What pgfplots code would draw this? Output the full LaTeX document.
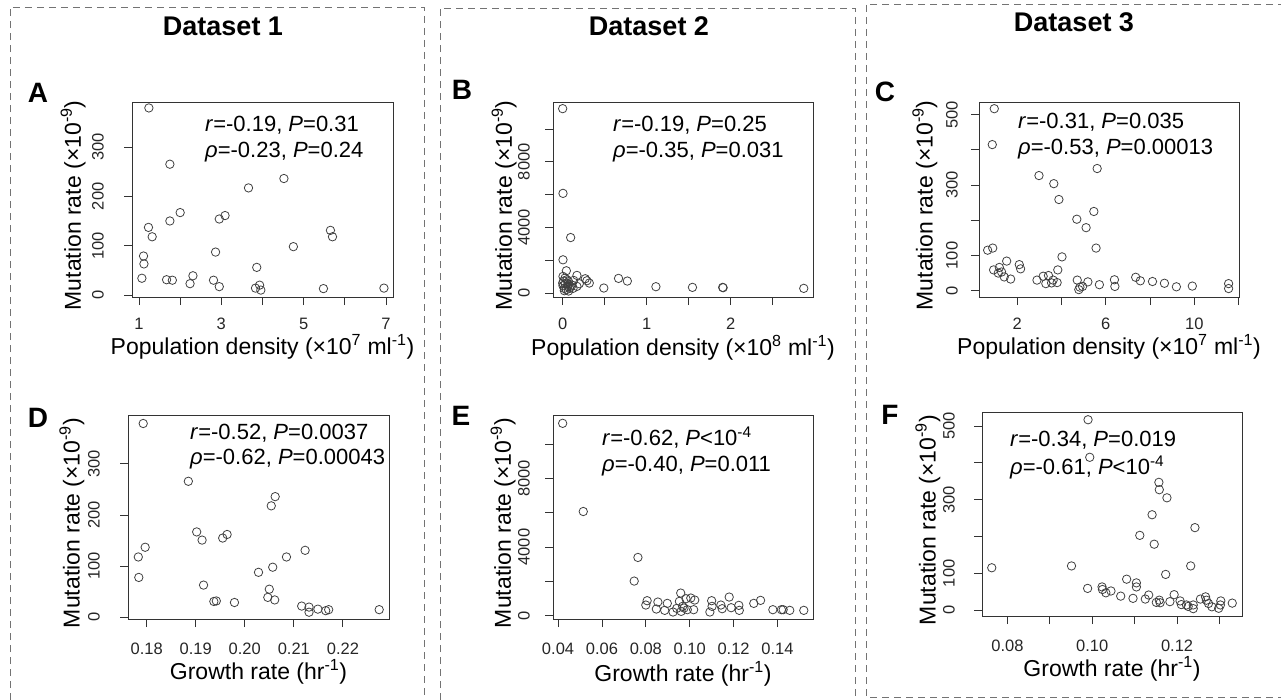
\documentclass[border=0pt]{standalone}
\usepackage{fontspec}
\setmainfont{Liberation Sans}
\usepackage{pgfplots}
\pgfplotsset{compat=1.18}

\newcommand\fs[1]{\fontsize{#1bp}{#1bp}\selectfont}

\pgfplotsset{
  rplot/.style={
    scale only axis, anchor=north west,
    scaled ticks=false,
    axis line style={black!80, line width=0.8bp},
    every tick/.style={black!80, line width=0.8bp},
    tick align=outside, major tick length=8bp,
    xtick pos=bottom, ytick pos=left,
    ticklabel style={font=\fs{16.5}, text=black!85, inner sep=0pt},
    xticklabel style={anchor=north},
    yticklabel style={rotate=90, anchor=south},
    xticklabel shift=13bp, yticklabel shift=20bp,
    label style={font=\fs{23}, inner sep=0pt},
    xlabel style={anchor=center},
    ylabel style={anchor=center},
    ylabel={Mutation rate (×10\textsuperscript{-9})},
  },
  dots/.style={only marks, mark=o, mark size=4.2bp,
    mark options={draw=black!75, line width=0.8bp}},
}
\tikzset{
  dashbox/.style={draw=black!55, line width=0.9bp, dash pattern=on 7bp off 5bp},
  head/.style={font=\fs{27}\bfseries, anchor=center},
  letter/.style={font=\fs{28}\bfseries, anchor=center},
  note/.style={font=\fs{22}, anchor=base west, inner sep=0pt},
}

\begin{document}
\begin{tikzpicture}
\useasboundingbox (0,0) rectangle (1281bp,-700bp);

% column frames
\draw[dashbox] (10bp,-700bp) -- (10bp,-7bp) -- (424bp,-7bp) -- (424bp,-700bp);
\draw[dashbox] (440bp,-700bp) -- (440bp,-8bp) -- (855bp,-8bp) -- (855bp,-700bp);
\draw[dashbox] (1285bp,-4bp) -- (866bp,-4bp) -- (866bp,-697bp) -- (1285bp,-697bp);

\node[head] at (223bp,-26bp) {Dataset 1};
\node[head] at (649bp,-26bp) {Dataset 2};
\node[head] at (1074bp,-22bp) {Dataset 3};

% A
\begin{axis}[rplot, at={(132bp,-102bp)}, width=261bp, height=195bp,
  xmin=0.83, xmax=7.17, ymin=-4, ymax=391,
  xtick={1,2,...,7}, xticklabels={1,,3,,5,,7},
  ytick={0,100,200,300}, yticklabels={0,100,200,300},
  xlabel={Population density (×10\textsuperscript{7} ml\textsuperscript{-1})},
  xlabel style={at={(axis description cs:0.5,-0.258)}},
  ylabel style={at={(axis description cs:-0.226,0.47)}}]
\addplot[dots] coordinates {
(1.24,379)(1.75,265)(2.00,167)(1.75,150)(1.23,137)(1.32,118)(1.11,79)(1.12,63)
(1.07,34)(1.67,31)(1.81,30)(2.31,39)(2.24,23)(2.81,30)(2.95,17)(2.86,87)
(2.95,154)(3.09,161)(3.66,217)(4.52,236)(3.86,56)(3.83,14)(3.93,20)(3.96,10)
(4.75,98)(5.65,131)(5.70,118)(5.48,13)(6.95,14)};
\end{axis}

% B
\begin{axis}[rplot, at={(553bp,-102bp)}, width=260bp, height=195bp,
  xmin=-0.115, xmax=2.98, ymin=-243, ymax=11640,
  xtick={0,0.5,...,2.5}, xticklabels={0,,1,,2,},
  ytick={0,2000,...,10000}, yticklabels={0,,4000,,8000,},
  yticklabel shift=15bp,
  xlabel={Population density (×10\textsuperscript{8} ml\textsuperscript{-1})},
  xlabel style={at={(axis description cs:0.5,-0.262)}},
  ylabel style={at={(axis description cs:-0.188,0.47)}}]
\addplot[dots] coordinates {
(0.0,11235)(0.004,6073)(0.095,3380)(0.004,2024)(0.044,1356)(0.170,1073)
(0.269,870)(0.317,607)(0.49,304)(0.665,891)(0.77,729)(1.11,385)(1.545,344)
(1.905,344)(1.91,324)(2.87,283)
(0.004,1012)(0.028,911)(0.051,810)(0.012,729)(0.071,688)(0.032,567)(0.004,445)
(0.059,405)(0.020,283)(0.044,202)(0.083,283)(0.111,486)(0.131,769)(0.198,567)
(0.170,405)(0.289,749)(0.020,142)(0.071,121)(0.091,405)(0.0,607)(0.063,567)
(0.123,283)};
\end{axis}

% C
\begin{axis}[rplot, at={(979bp,-102bp)}, width=260bp, height=195bp,
  xmin=0.27, xmax=12.02, ymin=-18, ymax=536,
  xtick={2,4,...,12}, xticklabels={2,,6,,10,},
  ytick={0,100,...,500}, yticklabels={0,100,,300,,500},
  yticklabel shift=13bp,
  xlabel={Population density (×10\textsuperscript{7} ml\textsuperscript{-1})},
  xlabel style={at={(axis description cs:0.5,-0.254)}},
  ylabel style={at={(axis description cs:-0.208,0.47)}}]
\addplot[dots] coordinates {
(0.96,517)(0.87,415)(0.66,115)(0.89,121)(0.93,59)(1.19,66)(1.14,50)(1.29,53)
(1.41,39)(1.52,84)(1.70,33)(2.09,74)(2.15,62)(2.98,327)(2.89,30)(3.17,41)
(3.41,43)(3.29,20)(3.62,30)(3.65,304)(3.88,259)(3.83,59)(4.02,96)(3.55,22)
(3.80,23)(4.69,203)(5.11,179)(4.71,30)(4.83,10)(4.95,12)(4.78,3)(5.19,25)
(5.46,225)(5.61,347)(5.56,121)(5.71,17)(6.39,31)(6.41,12)(7.35,38)(7.56,28)
(8.11,26)(8.65,21)(9.19,11)(9.91,13)(11.55,20)(11.55,6)};
\end{axis}

% D
\begin{axis}[rplot, at={(128bp,-415bp)}, width=261bp, height=204bp,
  xmin=0.1762, xmax=0.2294, ymin=-3.3, ymax=395.6,
  xtick={0.18,0.19,0.20,0.21,0.22}, xticklabels={0.18,0.19,0.20,0.21,0.22},
  ytick={0,100,200,300}, yticklabels={0,100,200,300},
  xticklabel shift=16bp,
  xlabel={Growth rate (hr\textsuperscript{-1})},
  xlabel style={at={(axis description cs:0.5,-0.258)}},
  ylabel style={at={(axis description cs:-0.215,0.47)}}]
\addplot[dots] coordinates {
(0.1793,379)(0.1885,266)(0.1797,137)(0.1783,118)(0.1784,78)(0.1902,167)
(0.1913,151)(0.1916,63)(0.1937,31)(0.1942,32)(0.1955,155)(0.1964,162)
(0.1979,29)(0.2028,88)(0.2054,218)(0.2062,236)(0.2057,98)(0.2050,55)
(0.2047,39)(0.2061,34)(0.2085,118)(0.2123,131)(0.2116,22)(0.2131,20)
(0.2131,10)(0.2149,16)(0.2165,13)(0.2171,15)(0.2274,15)};
\end{axis}

% E
\begin{axis}[rplot, at={(553bp,-415bp)}, width=260bp, height=204bp,
  xmin=0.0377, xmax=0.1562, ymin=-194, ymax=11709,
  xtick={0.04,0.06,...,0.14}, xticklabels={0.04,0.06,0.08,0.10,0.12,0.14},
  ytick={0,2000,...,10000}, yticklabels={0,,4000,,8000,},
  xticklabel shift=16bp, yticklabel shift=15bp,
  xlabel={Growth rate (hr\textsuperscript{-1})},
  xlabel style={at={(axis description cs:0.5,-0.27)}},
  ylabel style={at={(axis description cs:-0.192,0.47)}}]
\addplot[dots] coordinates {
(0.0421,11223)(0.0515,6078)(0.0764,3398)(0.0747,2019)(0.0806,874)(0.0800,621)
(0.0855,796)(0.0848,388)(0.0886,311)(0.0898,718)(0.0924,214)(0.0941,427)
(0.0959,1320)(0.0953,835)(0.0961,252)(0.0968,544)(0.0983,990)(0.0989,350)
(0.1005,1029)(0.1023,913)(0.1018,350)(0.1092,214)(0.1100,874)(0.1102,544)
(0.1142,621)(0.1148,408)(0.1180,1087)(0.1189,466)(0.1224,602)(0.1226,311)
(0.1292,718)(0.1323,893)(0.1379,350)(0.1418,350)(0.1426,350)(0.1456,311)
(0.1520,311)(0.0974,447)};
\end{axis}

% F
\begin{axis}[rplot, at={(982bp,-412bp)}, width=260bp, height=204bp,
  xmin=0.0740, xmax=0.1353, ymin=-16, ymax=538,
  xtick={0.08,0.09,0.10,0.11,0.12,0.13}, xticklabels={0.08,,0.10,,0.12,},
  ytick={0,100,...,500}, yticklabels={0,100,,300,,500},
  xticklabel shift=16bp, yticklabel shift=19bp,
  xlabel={Growth rate (hr\textsuperscript{-1})},
  xlabel style={at={(axis description cs:0.5,-0.258)}},
  ylabel style={at={(axis description cs:-0.208,0.47)}}]
\addplot[dots] coordinates {
(0.0990,517)(0.0994,415)(0.0763,115)(0.0951,120)(0.0989,59)(0.1023,63)
(0.1024,56)(0.1032,47)(0.1044,52)(0.1067,38)(0.1081,84)(0.1104,74)
(0.1104,63)(0.1096,32)(0.1112,203)(0.1133,41)(0.1125,30)(0.1141,259)
(0.1146,179)(0.1157,347)(0.1158,327)(0.1176,305)(0.1173,97)(0.1151,21)
(0.1158,27)(0.1160,20)(0.1183,23)(0.1193,42)(0.1207,25)(0.1210,15)
(0.1222,14)(0.1226,10)(0.1242,224)(0.1232,120)(0.1238,14)(0.1238,4)
(0.1255,30)(0.1267,36)(0.1269,27)(0.1274,18)(0.1282,9)(0.1298,5)
(0.1303,25)(0.1302,14)(0.1330,19)};
\end{axis}

% panel letters
\node[letter] at (38bp,-93bp) {A};
\node[letter] at (462bp,-90bp) {B};
\node[letter] at (885bp,-92bp) {C};
\node[letter] at (38bp,-418bp) {D};
\node[letter] at (461bp,-416bp) {E};
\node[letter] at (890bp,-415bp) {F};

% correlation notes
\node[note] at (205bp,-131bp) {\textit{r}=-0.19, \textit{P}=0.31};
\node[note] at (205bp,-157bp) {\textit{ρ}=-0.23, \textit{P}=0.24};
\node[note] at (613bp,-131bp) {\textit{r}=-0.19, \textit{P}=0.25};
\node[note] at (613bp,-157bp) {\textit{ρ}=-0.35, \textit{P}=0.031};
\node[note] at (1018bp,-128bp) {\textit{r}=-0.31, \textit{P}=0.035};
\node[note] at (1018bp,-154bp) {\textit{ρ}=-0.53, \textit{P}=0.00013};
\node[note] at (190bp,-439bp) {\textit{r}=-0.52, \textit{P}=0.0037};
\node[note] at (190bp,-464bp) {\textit{ρ}=-0.62, \textit{P}=0.00043};
\node[note] at (602bp,-445bp) {\textit{r}=-0.62, \textit{P}<10\textsuperscript{-4}};
\node[note] at (602bp,-471bp) {\textit{ρ}=-0.40, \textit{P}=0.011};
\node[note] at (1010bp,-446bp) {\textit{r}=-0.34, \textit{P}=0.019};
\node[note] at (1010bp,-474bp) {\textit{ρ}=-0.61, \textit{P}<10\textsuperscript{-4}};
\end{tikzpicture}
\end{document}
